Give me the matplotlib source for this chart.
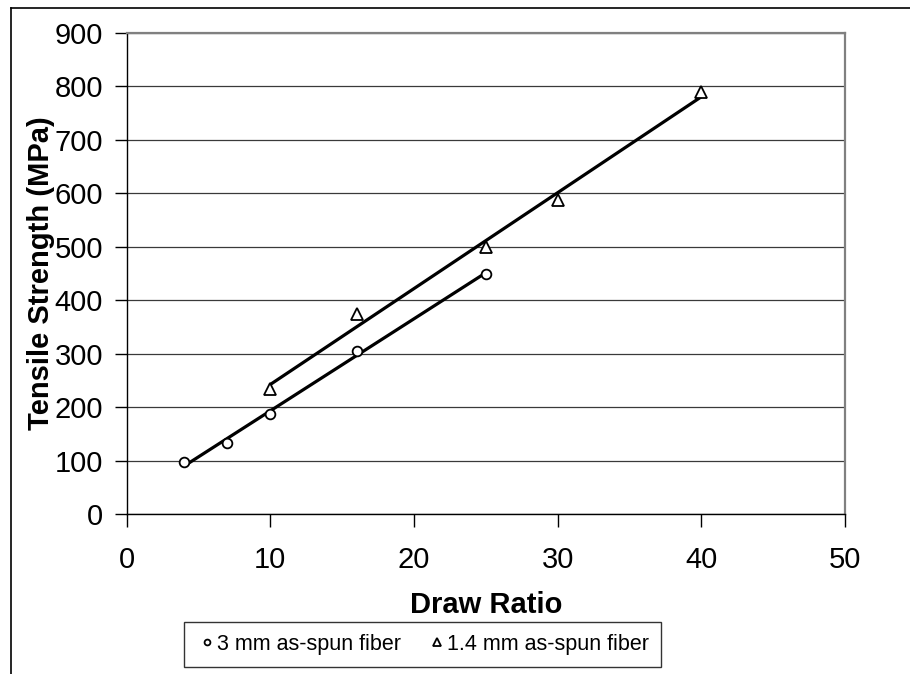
import numpy as np
import matplotlib.pyplot as plt
from matplotlib.lines import Line2D

plt.rcParams['font.family'] = ['Liberation Sans', 'DejaVu Sans']

# data
draw_3mm = [4, 7, 10, 16, 25]
strength_3mm = [98, 132, 187, 305, 449]
draw_14mm = [10, 16, 25, 30, 40]
strength_14mm = [233, 374, 500, 587, 790]

x_ticks = [0, 10, 20, 30, 40, 50]
y_ticks = [0, 100, 200, 300, 400, 500, 600, 700, 800, 900]

fig = plt.figure(figsize=(9.1, 6.74), dpi=100)
ax = fig.add_axes([0.1392, 0.2374, 0.7893, 0.7141])

# outer chart frame (only left and top edges show)
fig.add_artist(Line2D([11 / 910, 11 / 910], [0, 1 - 8 / 674], color='black', lw=1.2))
fig.add_artist(Line2D([11 / 910, 1], [1 - 8 / 674, 1 - 8 / 674], color='black', lw=1.2))

# linear trend lines over each series' range
for xs, ys in [(draw_3mm, strength_3mm), (draw_14mm, strength_14mm)]:
    xs = np.array(xs, dtype=float)
    k, b = np.polyfit(xs, ys, 1)
    xx = np.array([xs.min(), xs.max()])
    ax.plot(xx, k * xx + b, color='black', lw=2.3, zorder=2, solid_capstyle='butt')

ax.plot(draw_3mm, strength_3mm, 'o', ms=7, mfc='white', mec='black', mew=1.3,
        ls='none', zorder=3, label='3 mm as-spun fiber')
ax.plot(draw_14mm, strength_14mm, '^', ms=8.5, mfc='white', mec='black', mew=1.3,
        ls='none', zorder=3, label='1.4 mm as-spun fiber')

ax.set_xlim(0, 50)
ax.set_ylim(0, 900)
ax.set_xticks(x_ticks)
ax.set_yticks(y_ticks)
ax.yaxis.grid(True, color='#3a3a3a', lw=0.9)
ax.set_axisbelow(True)

for s in ['left', 'bottom']:
    ax.spines[s].set_color('black')
    ax.spines[s].set_linewidth(1.0)
for s in ['right', 'top']:
    ax.spines[s].set_color('#808080')
    ax.spines[s].set_linewidth(1.6)

ax.tick_params(axis='both', direction='out', length=9, width=1, labelsize=21, pad=8)
ax.tick_params(axis='x', pad=14)

ax.set_xlabel('Draw Ratio', fontsize=21, fontweight='bold', labelpad=12)
ax.set_ylabel('Tensile Strength (MPa)', fontsize=21, fontweight='bold', labelpad=0)

leg = fig.legend(loc='center', bbox_to_anchor=(422.5 / 910, 1 - 644.5 / 674), ncol=2,
                 fontsize=15.5, frameon=True, fancybox=False, markerscale=0.6,
                 handlelength=1.0, handletextpad=-0.05, columnspacing=1.2,
                 borderpad=0.58)
leg.get_frame().set_edgecolor('black')
leg.get_frame().set_linewidth(1.0)

fig.savefig('out.png', dpi=100)
